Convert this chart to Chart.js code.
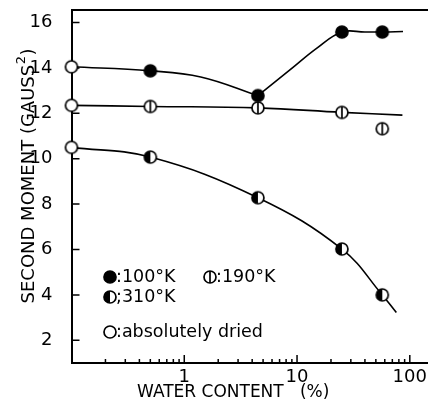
<!DOCTYPE html>
<html>
<head>
<meta charset="utf-8">
<script src="https://cdn.jsdelivr.net/npm/chart.js@4/dist/chart.umd.min.js"></script>
<style>
  html, body { margin: 0; padding: 0; background: #fff; }
  canvas { display: block; }
</style>
</head>
<body>
<canvas id="moment" width="428" height="404"></canvas>
<script>
// Measured second moments (gauss^2) against water content (%)
const water100 = [0.5, 4.5, 25, 57];
const moment100 = [13.87, 12.78, 15.58, 15.58];
const water190 = [0.5, 4.5, 25, 57];
const moment190 = [12.3, 12.24, 12.04, 11.32];
const water310 = [0.5, 4.5, 25, 57];
const moment310 = [10.07, 8.28, 6.02, 4.0];
const waterDried = [0.1, 0.1, 0.1];
const momentDried = [14.05, 12.35, 10.5];

// Smooth curves drawn through the measurements
// (the 100°K curve has a corner at its minimum, so it is drawn in two pieces)
const fitWater100Fall = [0.1, 0.5, 1.4, 4.5];
const fitMoment100Fall = [14.05, 13.87, 13.6, 12.78];
const fitWater100Rise = [4.5, 8.7, 15, 25, 40, 57, 87];
const fitMoment100Rise = [12.78, 13.92, 14.87, 15.58, 15.58, 15.58, 15.6];
const fitWater190 = [0.1, 0.5, 4.5, 25, 86];
const fitMoment190 = [12.35, 12.3, 12.24, 12.04, 11.92];
const fitWater310 = [0.1, 0.5, 4.5, 25, 57, 76];
const fitMoment310 = [10.5, 10.07, 8.28, 6.02, 4.0, 3.22];

// Axis ticks
const xTickLabels = [1, 10, 100];
const yTickValues = [2, 4, 6, 8, 10, 12, 14, 16];

const FONT = '"DejaVu Sans", sans-serif';

function pairs(xs, ys) {
    return xs.map((x, i) => ({ x: x, y: ys[i] }));
}

// Little canvases used as point styles: filled, open, half filled, barred
function makeMarker(kind) {
    const c = document.createElement('canvas');
    c.width = 16;
    c.height = 16;
    const g = c.getContext('2d');
    const cx = 8, cy = 8, r = 6;
    g.lineWidth = 1.7;
    g.strokeStyle = '#000';
    g.beginPath();
    g.arc(cx, cy, r, 0, Math.PI * 2);
    g.fillStyle = kind === 'filled' ? '#000' : '#fff';
    g.fill();
    g.stroke();
    if (kind === 'half') {
        g.beginPath();
        g.arc(cx, cy, r, Math.PI / 2, Math.PI * 1.5);
        g.closePath();
        g.fillStyle = '#000';
        g.fill();
    }
    if (kind === 'bar') {
        g.beginPath();
        g.moveTo(cx, cy - r);
        g.lineTo(cx, cy + r);
        g.stroke();
    }
    return c;
}

const markers = {
    filled: makeMarker('filled'),
    open: makeMarker('open'),
    half: makeMarker('half'),
    bar: makeMarker('bar')
};

function pointSet(data, style) {
    return {
        type: 'scatter',
        data: data,
        pointStyle: style,
        pointRadius: 6,
        showLine: false,
        clip: false
    };
}

function curveSet(data) {
    return {
        type: 'line',
        data: data,
        borderColor: '#000',
        borderWidth: 1.6,
        pointRadius: 0,
        fill: false,
        tension: 0.4,
        clip: false
    };
}

// Inward tick marks, top frame line, axis titles and the in-plot key
const decorations = {
    id: 'decorations',
    beforeDatasetsDraw(chart) {
        const ctx = chart.ctx;
        const area = chart.chartArea;
        const xs = chart.scales.x;
        const ys = chart.scales.y;
        ctx.save();
        ctx.strokeStyle = '#000';
        ctx.lineWidth = 1.5;
        ctx.beginPath();
        yTickValues.forEach(v => {
            const y = ys.getPixelForValue(v);
            ctx.moveTo(area.left, y);
            ctx.lineTo(area.left + 8, y);
        });
        xs.ticks.forEach(t => {
            const lg = Math.log10(t.value);
            const mant = t.value / Math.pow(10, Math.floor(lg + 1e-9));
            if (Math.abs(mant - Math.round(mant)) > 1e-6) return;
            const major = xTickLabels.includes(t.value);
            const x = xs.getPixelForValue(t.value);
            if (x <= area.left + 1) return;
            ctx.moveTo(x, area.bottom);
            ctx.lineTo(x, area.bottom - (major ? 8 : 4));
        });
        ctx.stroke();
        ctx.lineWidth = 2;
        ctx.beginPath();
        ctx.moveTo(area.left, area.top);
        ctx.lineTo(chart.width, area.top);
        ctx.stroke();
        ctx.restore();
    },
    afterDraw(chart) {
        const ctx = chart.ctx;
        ctx.save();
        ctx.fillStyle = '#000';
        ctx.textBaseline = 'middle';

        // vertical title with superscript
        ctx.translate(29, 176);
        ctx.rotate(-Math.PI / 2);
        ctx.font = '18px ' + FONT;
        const main = 'SECOND MOMENT (GAUSS';
        const wMain = ctx.measureText(main).width;
        ctx.font = '13px ' + FONT;
        const wSup = ctx.measureText('2').width;
        ctx.font = '18px ' + FONT;
        const wEnd = ctx.measureText(')').width;
        let x0 = -(wMain + wSup + 1 + wEnd) / 2;
        ctx.textAlign = 'left';
        ctx.fillText(main, x0, 0);
        ctx.font = '13px ' + FONT;
        ctx.fillText('2', x0 + wMain + 0.5, -7);
        ctx.font = '18px ' + FONT;
        ctx.fillText(')', x0 + wMain + wSup + 1, 0);
        ctx.setTransform(1, 0, 0, 1, 0, 0);

        ctx.font = '17px ' + FONT;
        ctx.fillText('WATER CONTENT   (%)', 137, 393);

        // key
        const key = [
            { style: markers.filled, x: 110, y: 277, text: ':100°K' },
            { style: markers.bar, x: 210, y: 277, text: ':190°K' },
            { style: markers.half, x: 110, y: 297, text: ';310°K' },
            { style: markers.open, x: 110, y: 332, text: ':absolutely dried' }
        ];
        ctx.font = '17.5px ' + FONT;
        key.forEach(k => {
            ctx.drawImage(k.style, k.x - 8, k.y - 8);
            ctx.fillText(k.text, k.x + 6, k.y);
        });
        ctx.restore();
    }
};

new Chart(document.getElementById('moment'), {
    data: {
        datasets: [
            pointSet(pairs(water100, moment100), markers.filled),
            pointSet(pairs(water190, moment190), markers.bar),
            pointSet(pairs(water310, moment310), markers.half),
            pointSet(pairs(waterDried, momentDried), markers.open),
            curveSet(pairs(fitWater100Fall, fitMoment100Fall)),
            curveSet(pairs(fitWater100Rise, fitMoment100Rise)),
            curveSet(pairs(fitWater190, fitMoment190)),
            curveSet(pairs(fitWater310, fitMoment310))
        ]
    },
    options: {
        responsive: false,
        animation: false,
        layout: {
            autoPadding: false,
            padding: { top: 10, right: 0, left: 0, bottom: 0 }
        },
        plugins: {
            legend: { display: false },
            tooltip: { enabled: false }
        },
        scales: {
            x: {
                type: 'logarithmic',
                min: 0.1,
                max: 145,
                grid: { display: false },
                border: { display: true, color: '#000', width: 2 },
                ticks: {
                    color: '#000',
                    font: { family: FONT, size: 18 },
                    padding: -4,
                    autoSkip: false,
                    maxRotation: 0,
                    callback: (v) => xTickLabels.includes(v) ? String(v) : ''
                },
                afterFit: (scale) => {
                    scale.height = 41;
                    scale.paddingLeft = 0;
                    scale.paddingRight = 0;
                }
            },
            y: {
                type: 'linear',
                min: 1,
                max: 16.55,
                grid: { display: false },
                border: { display: true, color: '#000', width: 2 },
                ticks: {
                    color: '#000',
                    font: { family: FONT, size: 18 },
                    padding: 11
                },
                afterBuildTicks: (scale) => {
                    scale.ticks = yTickValues.map(v => ({ value: v }));
                },
                afterFit: (scale) => {
                    scale.width = 71.5;
                    scale.paddingTop = 0;
                    scale.paddingBottom = 0;
                }
            }
        }
    },
    plugins: [decorations]
});
</script>
</body>
</html>
